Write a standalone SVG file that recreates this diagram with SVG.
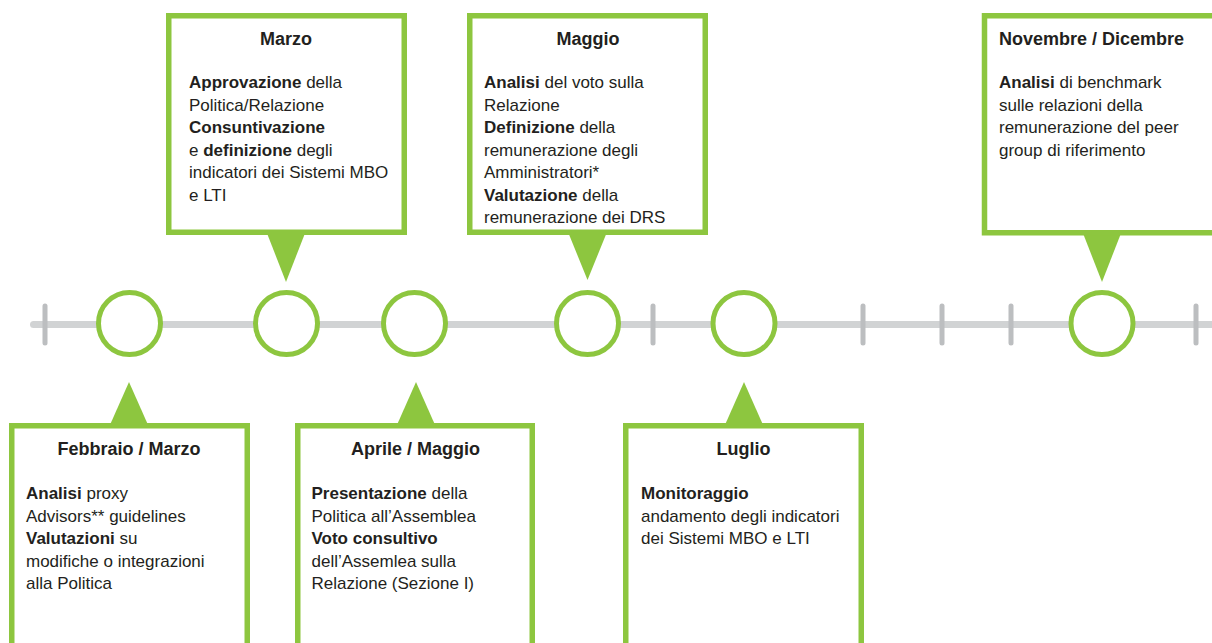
<svg xmlns="http://www.w3.org/2000/svg" width="1212" height="643" viewBox="0 0 1212 643">
<style>
.box{fill:#ffffff;stroke:#8dc63f;stroke-width:5.5}
.ptr{fill:#8dc63f}
.dot{fill:#ffffff;stroke:#8dc63f;stroke-width:5}
.tick{stroke:#bcbec0;stroke-width:5;stroke-linecap:round}
.axis{stroke:#d1d3d4;stroke-width:7;stroke-linecap:round}
text{font-family:"Liberation Sans",Arial,sans-serif;fill:#231f20}
.t{font-size:18px;font-weight:bold}
.b{font-size:17px}
.s{font-weight:bold}
.c{text-anchor:middle}
</style>
<rect width="1212" height="643" fill="#ffffff"/>
<g id="connectors">
<line class="axis" x1="33.5" y1="324.5" x2="1215" y2="324.5"/>
<line class="tick" x1="45" y1="306" x2="45" y2="343"/>
<line class="tick" x1="653" y1="306" x2="653" y2="343"/>
<line class="tick" x1="863" y1="306" x2="863" y2="343"/>
<line class="tick" x1="942" y1="306" x2="942" y2="343"/>
<line class="tick" x1="1011" y1="306" x2="1011" y2="343"/>
<line class="tick" x1="1196" y1="306" x2="1196" y2="343"/>
</g>
<g id="dots">
<circle class="dot" cx="129.5" cy="323.5" r="31"/>
<circle class="dot" cx="286.5" cy="323.5" r="31"/>
<circle class="dot" cx="414.5" cy="323.5" r="31"/>
<circle class="dot" cx="587.5" cy="323.5" r="31"/>
<circle class="dot" cx="744" cy="323.5" r="31"/>
<circle class="dot" cx="1102" cy="323.5" r="31"/>
</g>
<g id="marzo">
<polygon class="ptr" points="266.5,232 305.5,232 286,282"/>
<rect class="box" x="168.75" y="15.75" width="235.5" height="216.5"/>
<text class="t c" x="286" y="45">Marzo</text>
<text class="b" x="189" y="88"><tspan class="s">Approvazione</tspan> della</text>
<text class="b" x="189" y="110.5">Politica/Relazione</text>
<text class="b" x="189" y="133"><tspan class="s">Consuntivazione</tspan></text>
<text class="b" x="189" y="155.5">e <tspan class="s">definizione</tspan> degli</text>
<text class="b" x="189" y="178">indicatori dei Sistemi MBO</text>
<text class="b" x="189" y="200.5">e LTI</text>
</g>
<g id="maggio">
<polygon class="ptr" points="568,232 607,232 587.5,280"/>
<rect class="box" x="469.75" y="15.75" width="235.5" height="216.5"/>
<text class="t c" x="588" y="45">Maggio</text>
<text class="b" x="484" y="88"><tspan class="s">Analisi</tspan> del voto sulla</text>
<text class="b" x="484" y="110.5">Relazione</text>
<text class="b" x="484" y="133"><tspan class="s">Definizione</tspan> della</text>
<text class="b" x="484" y="155.5">remunerazione degli</text>
<text class="b" x="484" y="178">Amministratori*</text>
<text class="b" x="484" y="200.5"><tspan class="s">Valutazione</tspan> della</text>
<text class="b" x="484" y="223">remunerazione dei DRS</text>
</g>
<g id="novembre-dicembre">
<polygon class="ptr" points="1082.5,232 1121.5,232 1102,282"/>
<rect class="box" x="984.5" y="15.75" width="240" height="217"/>
<text class="t" x="999" y="45">Novembre / Dicembre</text>
<text class="b" x="999" y="88"><tspan class="s">Analisi</tspan> di benchmark</text>
<text class="b" x="999" y="110.5">sulle relazioni della</text>
<text class="b" x="999" y="133">remunerazione del peer</text>
<text class="b" x="999" y="155.5">group di riferimento</text>
</g>
<g id="febbraio-marzo">
<polygon class="ptr" points="109.5,426 148.5,426 129,382"/>
<rect class="box" x="11.75" y="425.75" width="235.5" height="260"/>
<text class="t c" x="129" y="455">Febbraio / Marzo</text>
<text class="b" x="26" y="499"><tspan class="s">Analisi</tspan> proxy</text>
<text class="b" x="26" y="521.5">Advisors** guidelines</text>
<text class="b" x="26" y="544"><tspan class="s">Valutazioni</tspan> su</text>
<text class="b" x="26" y="566.5">modifiche o integrazioni</text>
<text class="b" x="26" y="589">alla Politica</text>
</g>
<g id="aprile-maggio">
<polygon class="ptr" points="396.5,426 435.5,426 416,382"/>
<rect class="box" x="297.75" y="425.75" width="234.5" height="260"/>
<text class="t c" x="415.5" y="455">Aprile / Maggio</text>
<text class="b" x="311.5" y="499"><tspan class="s">Presentazione</tspan> della</text>
<text class="b" x="311.5" y="521.5">Politica all’Assemblea</text>
<text class="b" x="311.5" y="544"><tspan class="s">Voto consultivo</tspan></text>
<text class="b" x="311.5" y="566.5">dell’Assemlea sulla</text>
<text class="b" x="311.5" y="589">Relazione (Sezione I)</text>
</g>
<g id="luglio">
<polygon class="ptr" points="724.5,426 763.5,426 744,382"/>
<rect class="box" x="625.75" y="425.75" width="235.5" height="260"/>
<text class="t c" x="743.5" y="455">Luglio</text>
<text class="b" x="641" y="499"><tspan class="s">Monitoraggio</tspan></text>
<text class="b" x="641" y="521.5">andamento degli indicatori</text>
<text class="b" x="641" y="544">dei Sistemi MBO e LTI</text>
</g>
</svg>
